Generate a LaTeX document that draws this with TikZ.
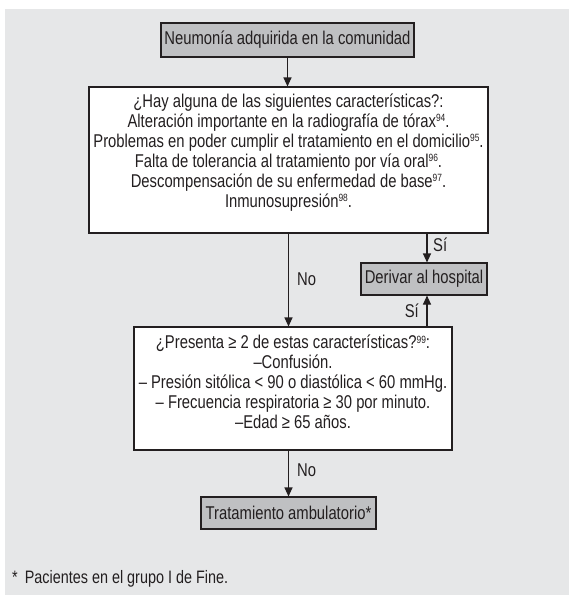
\documentclass[tikz,border=0pt]{standalone}
\usepackage{fontspec}
\setmainfont{Liberation Sans}[FakeStretch=0.8]
\usetikzlibrary{arrows.meta,calc}
\definecolor{panel}{HTML}{E6E7E8}
\definecolor{boxgray}{HTML}{BFC0C2}
\definecolor{ink}{HTML}{231F20}
% small reference numbers set level with the capitals
\newcommand{\citeno}[1]{\raisebox{5.5pt}{\fontsize{10.5}{10}\selectfont #1}}
\begin{document}
\begin{tikzpicture}[x=1pt,y=1pt,
  every node/.style={text=ink},
  base/.style={font=\fontsize{18.5}{20}\selectfont},
  graybox/.style={draw=ink, line width=1.1pt, fill=boxgray, inner sep=0pt, base},
  whitebox/.style={draw=ink, line width=1.1pt, fill=white, inner sep=0pt},
  lines/.style={base, align=center, inner sep=0pt},
  lbl/.style={base, inner sep=0pt},
  arr/.style={draw=ink, line width=1.1pt, -{Triangle[length=9pt,width=8pt]}}
]
% canvas and grey panel
\useasboundingbox (0,0) rectangle (569,-595);
\fill[white] (0,0) rectangle (569,-595);
\fill[panel] (5,-9) rectangle (569,-595);

% boxes
\node[graybox, minimum width=253pt, minimum height=34pt] (cap) at (287.5,-40) {Neumonía adquirida en la comunidad};

\node[whitebox, minimum width=399pt, minimum height=146pt] (q1) at (288.5,-160) {};
\node[lines] (q1t) at (288.5,-152.5) {¿Hay alguna de las siguientes características?:\\
Alteración importante en la radiografía de tórax\citeno{94}.\\
Problemas en poder cumplir el tratamiento en el domicilio\citeno{95}.\\
Falta de tolerancia al tratamiento por vía oral\citeno{96}.\\
Descompensación de su enfermedad de base\citeno{97}.\\
Inmunosupresión\citeno{98}.};

\node[graybox, minimum width=126pt, minimum height=32pt] (hosp) at (424,-279) {Derivar al hospital};

\node[whitebox, minimum width=318pt, minimum height=123pt] (q2) at (293,-388.5) {};
\node[lines] (q2t) at (293,-382) {¿Presenta ≥ 2 de estas características?\citeno{99}:\\
–Confusión.\\
– Presión sitólica < 90 o diastólica < 60 mmHg.\\
– Frecuencia respiratoria ≥ 30 por minuto.\\
–Edad ≥ 65 años.};

\node[graybox, minimum width=175pt, minimum height=32pt] (amb) at (288.5,-513) {Tratamiento ambulatorio*};

% connectors
\coordinate (sicol) at (427,0);
\draw[arr] (cap.south) -- (cap.south |- q1.north);
\draw[arr] (q1.south) -- (q1.south |- q2.north);
\draw[arr] (q1.south -| sicol) -- (hosp.north -| sicol);
\draw[arr] (q2.north -| sicol) -- (hosp.south -| sicol);
\draw[arr] (q2.south -| q1.south) -- (amb.north -| q1.south);

% branch labels
\node[lbl, anchor=west] (no1) at (297,-279) {No};
\node[lbl, anchor=west] (si1) at (433,-245) {Sí};
\node[lbl, anchor=east] (si2) at (419,-311) {Sí};
\node[lbl, anchor=west] (no2) at (297,-470) {No};

% footnote
\node[anchor=west, inner sep=0pt, font=\fontsize{18}{20}\selectfont] (note) at (12,-579) {*\hspace{7pt}Pacientes en el grupo I de Fine.};
\end{tikzpicture}
\end{document}
